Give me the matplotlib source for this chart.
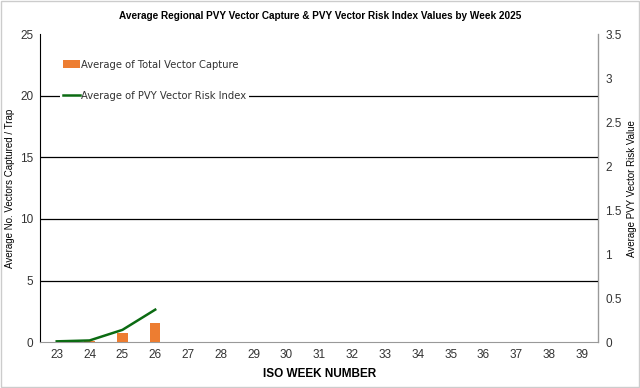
import matplotlib.pyplot as plt
import numpy as np

plt.rcParams['font.family'] = ['Liberation Sans', 'DejaVu Sans']

weeks = list(range(23, 40))
capture = [0.05, 0.08, 0.73, 1.55]      # average vectors / trap
risk = [0.01, 0.02, 0.14, 0.37]         # PVY vector risk index

fig = plt.figure(figsize=(6.4, 3.88), dpi=100)
ax = fig.add_axes([0.063, 0.118, 0.872, 0.794])
ax2 = ax.twinx()

x = np.arange(len(weeks))
ax.bar(x[:len(capture)], capture, width=0.32, color='#ED7D31',
       label='Average of Total Vector Capture', zorder=3)
ax2.plot(x[:len(risk)], risk, color='#0B6B12', lw=1.8,
         label='Average of PVY Vector Risk Index', zorder=3)

ax.set_xlim(-0.5, len(weeks) - 0.5)
ax.set_ylim(0, 25)
ax2.set_ylim(0, 3.5)
ax.set_yticks(range(0, 26, 5))
ax2.set_yticks(np.arange(0, 3.51, 0.5))
ax2.set_yticklabels(['0', '0.5', '1', '1.5', '2', '2.5', '3', '3.5'])
ax.set_xticks(x)
ax.set_xticklabels([str(w) for w in weeks])

for y in range(5, 25, 5):
    ax.axhline(y, color='black', lw=0.9, zorder=1)

for a in (ax, ax2):
    a.spines['top'].set_visible(False)
    a.tick_params(length=0, labelsize=8.5, colors='#333333', pad=5)
ax.spines['left'].set_color('black')
ax.spines['bottom'].set_color('#999999')
ax2.spines['right'].set_color('#999999')
ax2.spines['left'].set_visible(False)
ax2.spines['bottom'].set_visible(False)

ax.set_xlabel('ISO WEEK NUMBER', fontsize=8.5, fontweight='bold', labelpad=5)
ax.set_ylabel('Average No. Vectors Captured / Trap', fontsize=7, labelpad=4)
ax2.set_ylabel('Average PVY Vector Risk Value', fontsize=7, labelpad=4)
fig.suptitle('Average Regional PVY Vector Capture & PVY Vector Risk Index Values by Week 2025',
             fontsize=7.2, fontweight='bold', y=0.972)

h1, l1 = ax.get_legend_handles_labels()
h2, l2 = ax2.get_legend_handles_labels()
leg = ax2.legend(h1 + h2, l1 + l2, loc='upper left', bbox_to_anchor=(0.025, 0.945),
                 frameon=True, framealpha=1, edgecolor='white',
                 prop={'size': 8, 'family': 'DejaVu Sans'},
                 labelspacing=1.9, handlelength=1.5, handletextpad=0.1,
                 borderpad=0.3)
leg.get_frame().set_linewidth(0)
for t in leg.get_texts():
    t.set_color('#333333')
    t.set_fontsize(7.2)

fig.patches.append(plt.Rectangle((0.002, 0.002), 0.996, 0.996, transform=fig.transFigure,
                                 fill=False, edgecolor='#cccccc', lw=1))
fig.savefig('out.png', dpi=100)
